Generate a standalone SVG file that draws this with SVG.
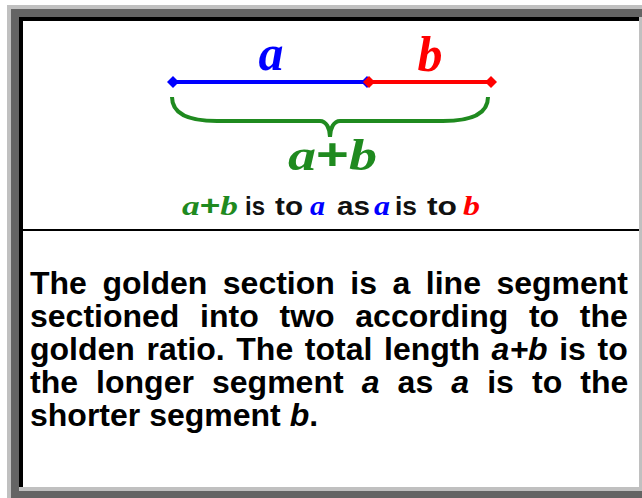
<svg xmlns="http://www.w3.org/2000/svg" width="642" height="498" viewBox="0 0 642 498">
<style>
.p{font-family:"Liberation Sans",Arial,sans-serif;font-weight:bold;font-size:32px;fill:#000}
.i{font-style:italic}
.m{font-family:"Liberation Serif","Times New Roman",serif;font-weight:bold;font-style:italic}
.s{font-family:"Liberation Sans",Arial,sans-serif;font-weight:bold;font-size:26px;fill:#111}
.blue{fill:#0000ff}.red{fill:#ff0000}.green{fill:#1f8a1f}
</style>
<defs>
<marker id="dB" viewBox="-6 -6 12 12" markerWidth="12" markerHeight="12" markerUnits="userSpaceOnUse" refX="0" refY="0" orient="auto"><path d="M-6,0 L0,-6 L6,0 L0,6 Z" fill="#0000ff"/></marker>
<marker id="dR" viewBox="-6 -6 12 12" markerWidth="12" markerHeight="12" markerUnits="userSpaceOnUse" refX="0" refY="0" orient="auto"><path d="M-6,0 L0,-6 L6,0 L0,6 Z" fill="#ff0000"/></marker>
</defs>
<g id="frame">
<rect x="7" y="5" width="635" height="493" fill="#c0c0c0"/>
<rect x="11" y="9" width="631" height="489" fill="#646464"/>
<rect x="19" y="17" width="623" height="474" fill="#c0c0c0"/>
<rect x="19" y="17" width="620" height="470" fill="#000"/>
<rect x="23" y="21" width="616" height="466" fill="#fff"/>
<rect x="23" y="229" width="616" height="2" fill="#000"/>
</g>
<g id="connectors">
<line x1="173" y1="82" x2="367" y2="82" stroke="#0000ff" stroke-width="4" marker-start="url(#dB)" marker-end="url(#dB)"/>
<line x1="369" y1="82" x2="491" y2="82" stroke="#ff0000" stroke-width="4" marker-start="url(#dR)" marker-end="url(#dR)"/>
<path d="M172,97 C172,114 190,121 217,121 L320,121 C326,121 330,128 330,137 C330,128 334,121 340,121 L443,121 C470,121 488,114 488,97" fill="none" stroke="#1f8a1f" stroke-width="4"/>
</g>
<g id="label-a"><text class="m blue" x="271" y="70" font-size="50" text-anchor="middle">a</text></g>
<g id="label-b"><text class="m red" x="430" y="71" font-size="50" text-anchor="middle">b</text></g>
<g id="label-ab"><text class="m green" x="288" y="170" font-size="44" textLength="89" lengthAdjust="spacingAndGlyphs">a<tspan font-style="normal" font-family="Liberation Sans, Arial, sans-serif">+</tspan>b</text></g>
<g id="ratio-line">
<text class="m green" x="182" y="215" font-size="28" textLength="56" lengthAdjust="spacingAndGlyphs">a<tspan font-style="normal" font-family="Liberation Sans, Arial, sans-serif">+</tspan>b</text>
<text class="s" x="245" y="215" textLength="20" lengthAdjust="spacingAndGlyphs">is</text>
<text class="s" x="275" y="215" textLength="28" lengthAdjust="spacingAndGlyphs">to</text>
<text class="m blue" x="310" y="215" font-size="28" textLength="15" lengthAdjust="spacingAndGlyphs">a</text>
<text class="s" x="337" y="215" textLength="33" lengthAdjust="spacingAndGlyphs">as</text>
<text class="m blue" x="374" y="215" font-size="28" textLength="16" lengthAdjust="spacingAndGlyphs">a</text>
<text class="s" x="395" y="215" textLength="22" lengthAdjust="spacingAndGlyphs">is</text>
<text class="s" x="427" y="215" textLength="30" lengthAdjust="spacingAndGlyphs">to</text>
<text class="m red" x="463" y="215" font-size="28" textLength="17" lengthAdjust="spacingAndGlyphs">b</text>
</g>
<g id="caption">
<text class="p" y="294"><tspan x="30">The</tspan><tspan x="102.4">golden</tspan><tspan x="222.8">section</tspan><tspan x="350.3">is</tspan><tspan x="392.5">a</tspan><tspan x="425.8">line</tspan><tspan x="496.4">segment</tspan></text>
<text class="p" y="327"><tspan x="30">sectioned</tspan><tspan x="200.1">into</tspan><tspan x="279.5">two</tspan><tspan x="355.3">according</tspan><tspan x="528.9">to</tspan><tspan x="579.8">the</tspan></text>
<text class="p" y="360"><tspan x="30">golden</tspan><tspan x="146.5">ratio.</tspan><tspan x="236.3">The</tspan><tspan x="304.8">total</tspan><tspan x="384">length</tspan><tspan x="491.6" class="i">a+b</tspan><tspan x="559.2">is</tspan><tspan x="597.5">to</tspan></text>
<text class="p" y="393"><tspan x="30">the</tspan><tspan x="96.1">longer</tspan><tspan x="212">segment</tspan><tspan x="361.7" class="i">a</tspan><tspan x="397.6">as</tspan><tspan x="451.3" class="i">a</tspan><tspan x="487.2">is</tspan><tspan x="532">to</tspan><tspan x="580.3">the</tspan></text>
<text class="p" y="426" x="30">shorter segment <tspan class="i">b</tspan>.</text>
</g>
</svg>
